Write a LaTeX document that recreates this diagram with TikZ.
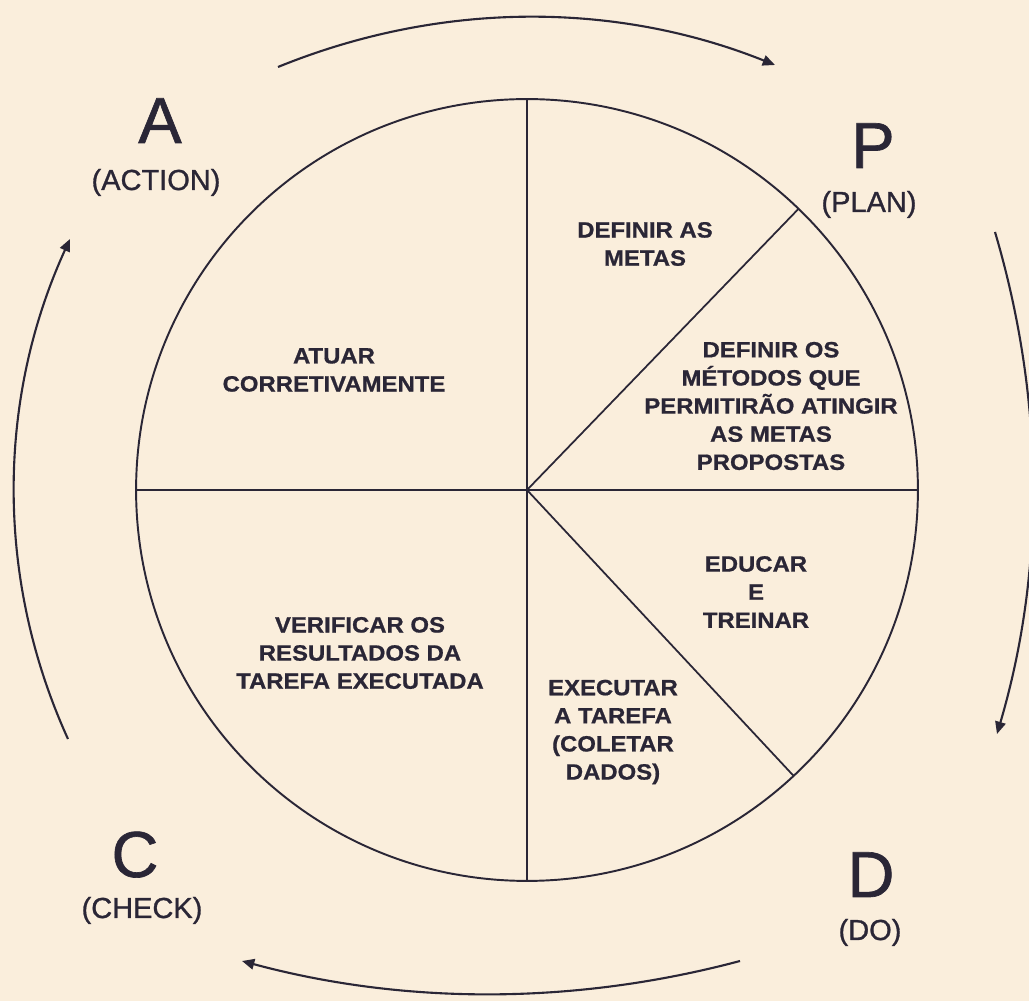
\documentclass[tikz,border=0pt]{standalone}
\usepackage{fontspec}
\setmainfont{Liberation Sans}
\newfontfamily\stagefont{Liberation Sans Bold}[FakeStretch=1.08,FakeBold=0.8]
\newfontfamily\cyclefont{Liberation Sans}[FakeBold=1]
\usetikzlibrary{arrows.meta,positioning}
\definecolor{pdcaInk}{HTML}{2A2636}
\definecolor{pdcaPaper}{HTML}{FAEEDC}
\tikzset{
  every picture/.style={text=pdcaInk},
  pdca ring/.style={circle, draw=pdcaInk, line width=1.1pt,
    minimum size=15.64cm, inner sep=0pt, outer sep=0pt},
  pdca split/.style={draw=pdcaInk, line width=1pt},
  pdca cycle/.style={draw=pdcaInk, line width=1.2pt,
    -{Triangle[length=7pt,width=6pt]}},
  pdca letter/.style={font=\cyclefont\fontsize{37}{37}\selectfont, anchor=base},
  pdca name/.style={font=\cyclefont\fontsize{16.5}{18}\selectfont, anchor=base},
  pdca task/.style={font=\stagefont\fontsize{12.6}{16}\selectfont, align=center}
}

\begin{document}
\begin{tikzpicture}[x=0.02cm,y=0.02cm]
  \fill[pdcaPaper] (0,0) rectangle (1029,1001);
  \useasboundingbox (0,0) rectangle (1029,1001);

  % the wheel and its sectors
  \node[pdca ring] (wheel) at (527,511) {};
  \draw[pdca split] (wheel.north) -- (wheel.south);
  \draw[pdca split] (wheel.west) -- (wheel.east);
  \draw[pdca split] (wheel.center) -- (wheel.46.5);
  \draw[pdca split] (wheel.center) -- (wheel.-47);

  \node[pdca task] (goals) at (645,757) {DEFINIR AS\\METAS};
  \node[pdca task] (methods) at (771,595) {DEFINIR OS\\MÉTODOS QUE\\PERMITIRÃO ATINGIR\\AS METAS\\PROPOSTAS};
  \node[pdca task] (train) at (756,409) {EDUCAR\\E\\TREINAR};
  \node[pdca task] (execute) at (613,269) {EXECUTAR\\A TAREFA\\(COLETAR\\DADOS)};
  \node[pdca task] (verify) at (360,348) {VERIFICAR OS\\RESULTADOS DA\\TAREFA EXECUTADA};
  \node[pdca task] (correct) at (334,631) {ATUAR\\CORRETIVAMENTE};

  % cycle letters
  \node[pdca letter] (a) at (160,858) {A};
  \node[pdca name] (action) at (156,811) {(ACTION)};
  \node[pdca letter] (p) at (873,833) {P};
  \node[pdca name] (plan) at (869,789) {(PLAN)};
  \node[pdca letter] (d) at (871,104) {D};
  \node[pdca name] (do) at (870,61) {(DO)};
  \node[pdca letter] (c) at (135,124) {C};
  \node[pdca name] (check) at (142,83) {(CHECK)};

  % arrows round the wheel
  \coordinate (topL) at (278,934);
  \coordinate (topR) at (775,936);
  \coordinate (rightT) at (995,769);
  \coordinate (rightB) at (997,267);
  \coordinate (botR) at (740,40);
  \coordinate (botL) at (242,40);
  \coordinate (leftB) at (68,262);
  \coordinate (leftT) at (70,762);
  \draw[pdca cycle] (topL) .. controls (440,1000) and (615,1000) .. (topR);
  \draw[pdca cycle] (rightT) .. controls (1045,600) and (1045,430) .. (rightB);
  \draw[pdca cycle] (botR) .. controls (575,-4) and (405,-4) .. (botL);
  \draw[pdca cycle] (leftB) .. controls (-4,420) and (-4,600) .. (leftT);
\end{tikzpicture}
\end{document}
